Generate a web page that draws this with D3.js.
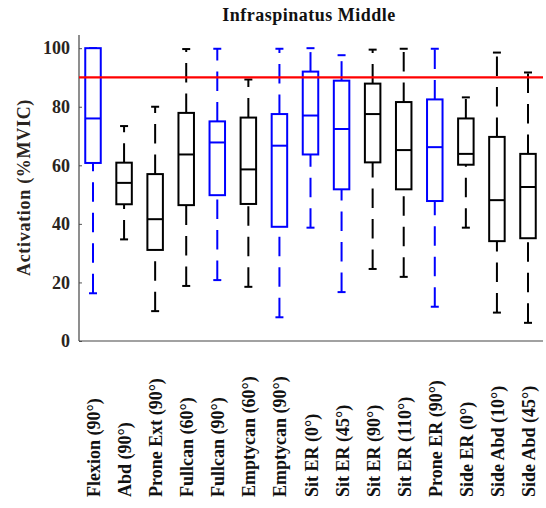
<!DOCTYPE html>
<html>
<head>
<meta charset="utf-8">
<script src="https://cdn.jsdelivr.net/npm/d3@7/dist/d3.min.js"></script>
<style>
  html, body { margin: 0; padding: 0; background: #fff; }
  svg { display: block; }
  text { font-family: "Liberation Serif", "Times New Roman", serif; font-weight: bold; }
</style>
</head>
<body>
<svg id="chart" width="546" height="508"></svg>
<script>
// Exercises (x categories)
const categories = [
  "Flexion (90°)", "Abd (90°)", "Prone Ext (90°)", "Fullcan (60°)", "Fullcan (90°)",
  "Emptycan (60°)", "Emptycan (90°)", "Sit ER (0°)", "Sit ER (45°)", "Sit ER (90°)",
  "Sit ER (110°)", "Prone ER (90°)", "Side ER (0°)", "Side Abd (10°)", "Side Abd (45°)"
];
// Group of each exercise (drawn blue or black)
const groups = ["B", "A", "A", "A", "B", "A", "B", "B", "B", "A", "A", "B", "A", "A", "A"];

// Five-number summaries, activation in %MVIC
const whiskerLow  = [16.3, 34.7, 10.2, 18.8, 20.8, 18.5,  8.1, 38.7, 16.7, 24.6, 21.9, 11.7, 38.7,  9.7,  6.2];
const quartile1   = [60.8, 46.7, 31.1, 46.4, 49.8, 46.8, 39.0, 63.7, 51.8, 61.0, 51.8, 47.8, 60.2, 34.1, 35.1];
const medians     = [76.0, 54.0, 41.6, 63.7, 67.8, 58.6, 66.7, 77.0, 72.4, 77.5, 65.2, 66.2, 63.9, 48.1, 52.6];
const quartile3   = [100,  60.9, 57.0, 77.9, 75.0, 76.3, 77.5, 92.0, 88.9, 87.9, 81.6, 82.5, 76.0, 69.7, 63.9];
const whiskerHigh = [100,  73.4, 80.0, 99.7, 99.8, 89.3, 99.8, 100,  97.6, 99.5, 99.8, 99.8, 83.2, 98.5, 91.7];

// Reference threshold and y ticks
const threshold = [90];
const yTicks = [0, 20, 40, 60, 80, 100];

const title = "Infraspinatus Middle";
const yLabel = "Activation (%MVIC)";

const rows = categories.map((c, i) => ({
  name: c, group: groups[i],
  lo: whiskerLow[i], q1: quartile1[i], med: medians[i], q3: quartile3[i], hi: whiskerHigh[i]
}));

const svg = d3.select("#chart");
const plotLeft = 79, plotRight = 543, plotTop = 35, plotBottom = 341;

const x = d3.scalePoint().domain(categories).range([93, 528]);
const y = d3.scaleLinear().domain([0, 104.5]).range([plotBottom, plotTop]);
const color = d3.scaleOrdinal().domain(["A", "B"]).range(["#000000", "#0000ff"]);

const boxW = 15.5, capW = 8;

// Title
svg.append("text")
  .attr("x", 309).attr("y", 21)
  .attr("text-anchor", "middle")
  .attr("font-size", 18)
  .attr("letter-spacing", 0.5)
  .attr("fill", "#111")
  .text(title);

// Y axis
const yAxis = svg.append("g")
  .attr("transform", `translate(${plotLeft},0)`)
  .call(d3.axisLeft(y).tickValues(yTicks).tickSize(-3).tickPadding(9).tickFormat(d3.format("d")));
yAxis.select(".domain").remove();
yAxis.selectAll(".tick line").attr("stroke", "#555");
yAxis.selectAll(".tick text")
  .attr("font-size", 18)
  .attr("fill", "#2a2420")
  .attr("font-family", "'Liberation Serif', serif")
  .attr("font-weight", "bold");

// Axis lines
svg.append("line")
  .attr("x1", plotLeft).attr("x2", plotLeft)
  .attr("y1", plotTop).attr("y2", plotBottom)
  .attr("stroke", "#444").attr("stroke-width", 1.2);
svg.append("line")
  .attr("x1", plotLeft).attr("x2", plotRight)
  .attr("y1", plotBottom).attr("y2", plotBottom)
  .attr("stroke", "#444").attr("stroke-width", 1.2);

// Y label
svg.append("text")
  .attr("transform", `translate(30,${(100 + 275) / 2}) rotate(-90)`)
  .attr("text-anchor", "middle")
  .attr("font-size", 18)
  .attr("letter-spacing", 0.7)
  .attr("fill", "#2a2420")
  .text(yLabel);

// Boxes
const box = svg.append("g").selectAll("g").data(rows).join("g")
  .attr("stroke", d => color(d.group))
  .attr("fill", "none")
  .attr("stroke-width", 2);

// Whiskers: dash pattern runs from the lower value upward
box.append("line")
  .attr("x1", d => x(d.name)).attr("x2", d => x(d.name))
  .attr("y1", d => y(d.lo)).attr("y2", d => y(d.q1))
  .attr("stroke-dasharray", "19.5,11");
box.append("line")
  .attr("x1", d => x(d.name)).attr("x2", d => x(d.name))
  .attr("y1", d => y(d.q3)).attr("y2", d => y(d.hi))
  .attr("stroke-dasharray", "19.5,11");

// Whisker caps
box.append("line")
  .attr("x1", d => x(d.name) - capW / 2).attr("x2", d => x(d.name) + capW / 2)
  .attr("y1", d => y(d.lo)).attr("y2", d => y(d.lo));
box.append("line")
  .attr("x1", d => x(d.name) - capW / 2).attr("x2", d => x(d.name) + capW / 2)
  .attr("y1", d => y(d.hi)).attr("y2", d => y(d.hi));

// Interquartile box
box.append("rect")
  .attr("x", d => x(d.name) - boxW / 2)
  .attr("width", boxW)
  .attr("y", d => y(d.q3))
  .attr("height", d => y(d.q1) - y(d.q3))
  .attr("fill", "#fff");

// Median
box.append("line")
  .attr("x1", d => x(d.name) - boxW / 2).attr("x2", d => x(d.name) + boxW / 2)
  .attr("y1", d => y(d.med)).attr("y2", d => y(d.med));

// Threshold line
svg.append("g").selectAll("line").data(threshold).join("line")
  .attr("x1", plotLeft).attr("x2", plotRight)
  .attr("y1", d => y(d)).attr("y2", d => y(d))
  .attr("stroke", "#ff0000").attr("stroke-width", 2.2);

// Category labels, rotated, bottom-aligned
svg.append("g").selectAll("text").data(categories).join("text")
  .attr("transform", d => `translate(${x(d) + 7},497) rotate(-90)`)
  .attr("text-anchor", "start")
  .attr("font-size", 18)
  .attr("fill", "#111")
  .text(d => d);
</script>
</body>
</html>
